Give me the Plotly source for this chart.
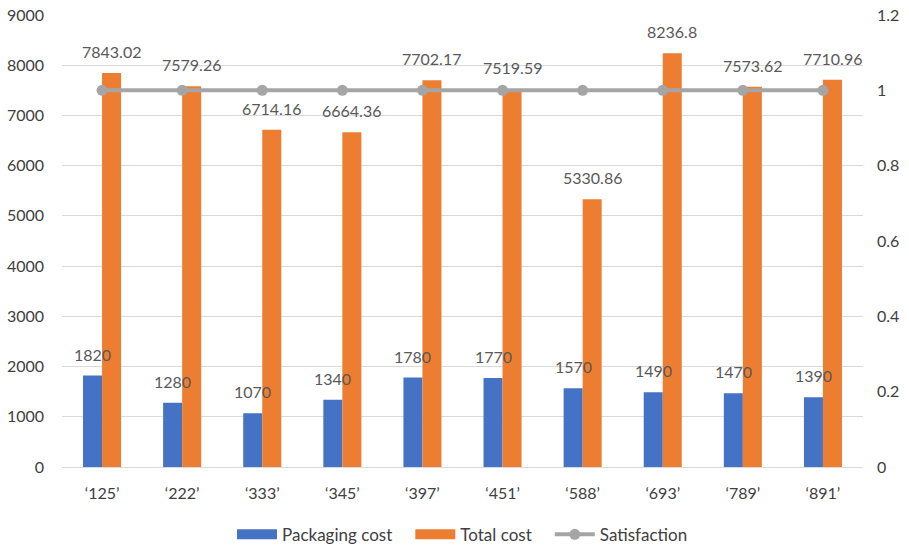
import plotly.graph_objects as go

categories = ["\u2018125\u2019", "\u2018222\u2019", "\u2018333\u2019", "\u2018345\u2019", "\u2018397\u2019",
              "\u2018451\u2019", "\u2018588\u2019", "\u2018693\u2019", "\u2018789\u2019", "\u2018891\u2019"]
packaging_cost = [1820, 1280, 1070, 1340, 1780, 1770, 1570, 1490, 1470, 1390]
total_cost = [7843.02, 7579.26, 6714.16, 6664.36, 7702.17, 7519.59, 5330.86, 8236.8, 7573.62, 7710.96]
satisfaction = [1, 1, 1, 1, 1, 1, 1, 1, 1, 1]

BLUE = "#4472C4"
ORANGE = "#ED7D31"
GRAY = "#A5A5A5"
FONT = "Lato, 'Open Sans', sans-serif"
PAD = "\u00a0\u00a0\u00a0"

fig = go.Figure()
fig.add_trace(go.Bar(x=categories, y=packaging_cost, name="Packaging cost", showlegend=False,
                     marker=dict(color=BLUE, line=dict(width=0))))
fig.add_trace(go.Bar(x=categories, y=total_cost, name="Total cost", showlegend=False,
                     marker=dict(color=ORANGE, line=dict(width=0))))
# legend-only entries drawn as wide swatches
fig.add_trace(go.Scatter(x=[None], y=[None], name="Packaging cost" + PAD, mode="lines",
                         line=dict(color=BLUE, width=12)))
fig.add_trace(go.Scatter(x=[None], y=[None], name="Total cost" + PAD, mode="lines",
                         line=dict(color=ORANGE, width=12)))
fig.add_trace(go.Scatter(x=categories, y=satisfaction, name="Satisfaction", yaxis="y2",
                         mode="lines+markers",
                         line=dict(color=GRAY, width=4),
                         marker=dict(color=GRAY, size=11)))

annotations = []
for c, v in zip(categories, packaging_cost):
    annotations.append(dict(x=c, y=v, text=str(v), showarrow=False, xref="x", yref="y",
                            xanchor="center", yanchor="bottom", xshift=-9.5, yshift=10,
                            font=dict(family=FONT, size=16, color="#595959")))
for c, v in zip(categories, total_cost):
    annotations.append(dict(x=c, y=v, text=f"{v:g}", showarrow=False, xref="x", yref="y",
                            xanchor="center", yanchor="bottom", xshift=9.5, yshift=10,
                            font=dict(family=FONT, size=16, color="#595959")))

fig.update_layout(
    width=909, height=548,
    margin=dict(l=62, r=46, t=15, b=81, autoexpand=False),
    paper_bgcolor="white", plot_bgcolor="white",
    barmode="group", bargap=0.525, bargroupgap=0,
    font=dict(family=FONT, size=16, color="#404040"),
    xaxis=dict(range=[-0.5, len(categories) - 0.5], autorange=False,
               showgrid=False, showline=True, linecolor="#D9D9D9", linewidth=1, automargin=False,
               ticks="", ticklabelstandoff=12, tickfont=dict(size=16, color="#404040")),
    yaxis=dict(range=[0, 9000], dtick=1000, showgrid=True, gridcolor="#D9D9D9", gridwidth=1,
               automargin=False, ticklabelstandoff=17,
               zeroline=False, showline=False, ticks="", tickfont=dict(size=16, color="#404040")),
    yaxis2=dict(range=[0, 1.2], dtick=0.2, overlaying="y", side="right", showgrid=False,
                automargin=False, ticklabelstandoff=13,
                zeroline=False, showline=False, ticks="", tickfont=dict(size=16, color="#404040"),
                tickformat="~g"),
    legend=dict(orientation="h", x=0.5, xanchor="center", y=-0.15, yanchor="middle",
                font=dict(size=17, color="#404040"), itemwidth=40, traceorder="normal",
                tracegroupgap=0),
    annotations=annotations,
)

fig.write_html("out.html")
